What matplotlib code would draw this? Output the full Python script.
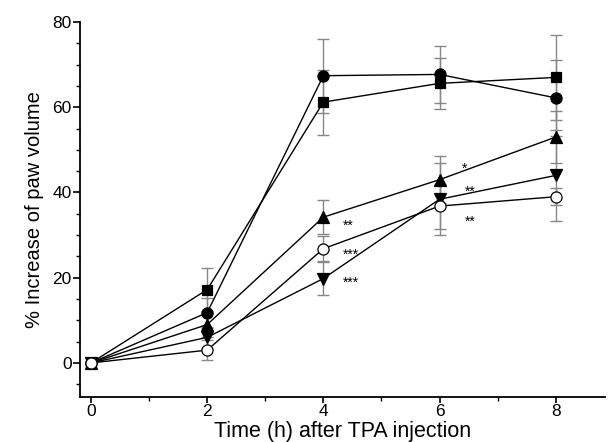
import matplotlib
matplotlib.use("Agg")
import matplotlib.pyplot as plt
from matplotlib.ticker import MultipleLocator

plt.rcParams['font.family'] = ['Liberation Sans', 'DejaVu Sans']

time_h = [0, 2, 4, 6, 8]

# mean % increase of paw volume and SEM per group
square_mean = [0, 17.2, 61.2, 65.6, 67.0]
square_err = [0, 5.0, 7.6, 6.0, 10.0]
circle_mean = [0, 11.8, 67.4, 67.7, 62.2]
circle_err = [0, 3.5, 8.7, 6.7, 9.0]
tri_up_mean = [0, 9.0, 34.2, 43.0, 53.0]
tri_up_err = [0, 3.0, 4.0, 5.5, 6.0]
tri_down_mean = [0, 6.0, 19.8, 38.4, 44.0]
tri_down_err = [0, 2.5, 3.8, 8.4, 10.6]
open_mean = [0, 3.0, 26.8, 36.8, 39.0]
open_err = [0, 2.3, 3.0, 5.3, 2.0]

# significance marks (x, y, text)
sig_x = [4.43, 4.47, 4.47, 6.43, 6.52, 6.52]
sig_y = [32.2, 25.4, 18.8, 45.6, 40.2, 33.2]
sig_text = ['**', '***', '***', '*', '**', '**']

fig = plt.figure(figsize=(6.08, 4.42), dpi=100)
ax = fig.add_axes([0.1316, 0.1018, 0.8635, 0.8484])

series = [
    (square_mean, square_err, 's', 7, 'black'),
    (circle_mean, circle_err, 'o', 8, 'black'),
    (tri_up_mean, tri_up_err, '^', 9, 'black'),
    (tri_down_mean, tri_down_err, 'v', 9, 'black'),
    (open_mean, open_err, 'o', 8, 'white'),
]

for mean, err, mk, ms, face in series:
    ax.errorbar(time_h, mean, yerr=err, fmt='none', ecolor='#888888',
                elinewidth=1.0, capsize=4, capthick=1.0, zorder=1)
for mean, err, mk, ms, face in series:
    ax.plot(time_h, mean, color='black', linewidth=1.0, marker=mk,
            markersize=ms, markerfacecolor=face, markeredgecolor='black',
            markeredgewidth=0.9, zorder=3)

for x, y, s in zip(sig_x, sig_y, sig_text):
    ax.text(x, y, s, ha='center', va='center', fontsize=10)

ax.set_xlim(-0.19, 8.85)
ax.set_ylim(-8, 80)
ax.xaxis.set_major_locator(MultipleLocator(2))
ax.xaxis.set_minor_locator(MultipleLocator(1))
ax.yaxis.set_major_locator(MultipleLocator(20))
ax.yaxis.set_minor_locator(MultipleLocator(5))

ax.spines['top'].set_visible(False)
ax.spines['right'].set_visible(False)
for sp in ('left', 'bottom'):
    ax.spines[sp].set_linewidth(1.3)
ax.tick_params(which='major', direction='out', length=5, width=1.2,
               labelsize=12.5, pad=1)
ax.tick_params(axis='x', which='major', length=4)
ax.tick_params(which='minor', direction='out', length=3, width=1.0)

ax.set_xlabel('Time (h) after TPA injection', fontsize=15.5)
ax.xaxis.set_label_coords(0.5, -0.064)
ax.set_ylabel('% Increase of paw volume', fontsize=14.5, labelpad=6)

fig.savefig('out.png', dpi=100)
